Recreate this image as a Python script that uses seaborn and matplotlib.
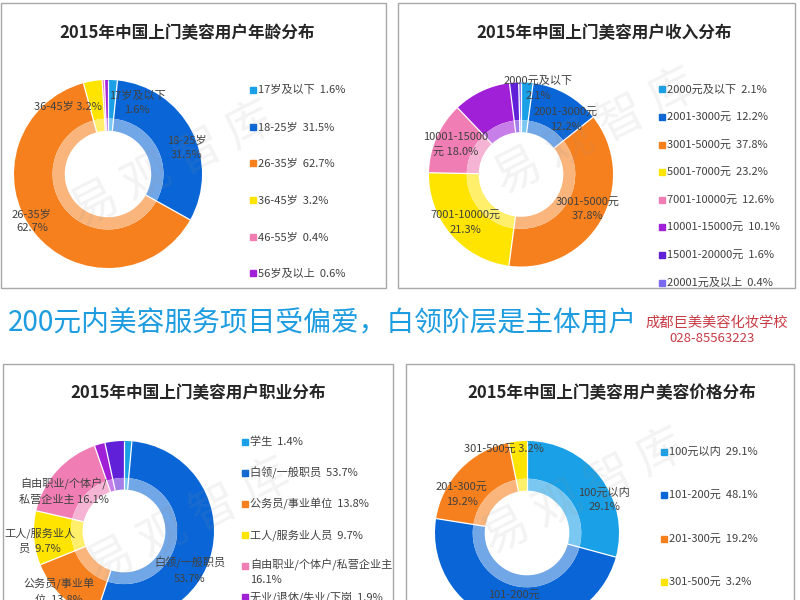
import numpy as np
import matplotlib
matplotlib.use("Agg")
import matplotlib.pyplot as plt
import matplotlib.colors as mcolors
from matplotlib.patches import Rectangle
import seaborn as sns

sns.set_theme(style="white")
plt.rcParams['font.family'] = ['Noto Sans CJK SC', 'DejaVu Sans']

# ---------------- data ----------------
age_title = "2015年中国上门美容用户年龄分布"
age_labels = ["17岁及以下", "18-25岁", "26-35岁", "36-45岁", "46-55岁", "56岁及以上"]
age_values = [1.6, 31.5, 62.7, 3.2, 0.4, 0.6]
age_slice_text = ["17岁及以下\n1.6%", "18-25岁\n31.5%", "26-35岁\n62.7%", "36-45岁 3.2%"]

income_title = "2015年中国上门美容用户收入分布"
income_labels = ["2000元及以下", "2001-3000元", "3001-5000元", "5001-7000元",
                 "7001-10000元", "10001-15000元", "15001-20000元", "20001元及以上"]
income_values = [2.1, 12.2, 37.8, 23.2, 12.6, 10.1, 1.6, 0.4]
income_slice_text = ["2000元及以下\n2.1%", "2001-3000元\n12.2%", "3001-5000元\n37.8%",
                     "7001-10000元\n21.3%", "10001-15000\n元 18.0%"]

job_title = "2015年中国上门美容用户职业分布"
job_labels = ["学生", "白领/一般职员", "公务员/事业单位", "工人/服务业人员",
              "自由职业/个体户/私营企业主", "无业/退休/失业/下岗", "其他"]
job_values = [1.4, 53.7, 13.8, 9.7, 16.1, 1.9, 3.4]
job_slice_text = ["白领/一般职员\n53.7%", "公务员/事业单\n位  13.8%",
                  "工人/服务业人\n员  9.7%", "自由职业/个体户/\n私营企业主 16.1%"]

price_title = "2015年中国上门美容用户美容价格分布"
price_labels = ["100元以内", "101-200元", "201-300元", "301-500元"]
price_values = [29.1, 48.1, 19.2, 3.2]
price_slice_text = ["100元以内\n29.1%", "101-200元\n48.1%", "201-300元\n19.2%", "301-500元 3.2%"]

banner = "200元内美容服务项目受偏爱，白领阶层是主体用户"
school = "成都巨美美容化妆学校"
phone = "028-85563223"
watermark = "易 观 智 库"

# ---------------- style ----------------
palette = sns.color_palette(["#1aa0e6", "#0a66d6", "#f7801e", "#ffe400",
                             "#f07eb4", "#a020d8", "#6020d8", "#7a6af0"])
TEXT = "#404040"
W, H = 800, 600
FS = 8.0


def fx(x):
    return x / W


def fy(y):
    return 1 - y / H


def lighten(c, a):
    r, g, b = mcolors.to_rgb(c)
    return (r + (1 - r) * a, g + (1 - g) * a, b + (1 - b) * a)


fig = plt.figure(figsize=(8, 6), dpi=100)
fig.patch.set_facecolor("white")


def box(x0, y0, x1, y1):
    fig.add_artist(Rectangle((fx(x0), fy(y1)), (x1 - x0) / W, (y1 - y0) / H,
                             transform=fig.transFigure, fill=False,
                             edgecolor="#a8a8a8", linewidth=1.0))


def donut(cx, cy, R, values, texts, text_pos):
    lim = 1.15
    ax = fig.add_axes([fx(cx - lim * R), fy(cy + lim * R), 2 * lim * R / W, 2 * lim * R / H])
    cols = palette[:len(values)]
    ax.pie(values, colors=cols, radius=1.0, startangle=90, counterclock=False,
           wedgeprops=dict(width=0.41, linewidth=0))
    ax.pie(values, colors=[lighten(c, 0.42) for c in cols], radius=0.59,
           startangle=90, counterclock=False,
           wedgeprops=dict(width=0.13, linewidth=0))
    # thin white separators between slices
    total = float(sum(values))
    cum = np.cumsum([0.0] + list(values))
    for c in cum[:-1]:
        ang = np.deg2rad(90 - 360.0 * c / total)
        ax.plot([0.46 * np.cos(ang), 1.0 * np.cos(ang)],
                [0.46 * np.sin(ang), 1.0 * np.sin(ang)],
                color="white", linewidth=0.9, solid_capstyle="butt", zorder=3)
    ax.set_xlim(-lim, lim)
    ax.set_ylim(-lim, lim)
    ax.set_aspect("equal")
    ax.axis("off")
    for t, (px, py) in zip(texts, text_pos):
        ax.text(px, py, t, ha="center", va="center", fontsize=FS,
                color=TEXT, linespacing=1.6, zorder=5)
    return ax


def legend(xs, y0, dy, labels, values, n=None):
    n = len(labels) if n is None else n
    for i in range(n):
        y = y0 + i * dy
        fig.add_artist(Rectangle((fx(xs), fy(y + 3)), 6 / W, 6 / H,
                                 transform=fig.transFigure, color=palette[i]))
        lab = labels[i]
        if len(lab) > 12:
            fig.text(fx(xs + 8), fy(y - 7), f"{lab}\n{values[i]}%", ha="left", va="top",
                     fontsize=FS, color=TEXT, linespacing=1.55)
        else:
            fig.text(fx(xs + 8), fy(y), f"{lab}  {values[i]}%", ha="left", va="center",
                     fontsize=FS, color=TEXT)


def title(x, y, t):
    fig.text(fx(x), fy(y), t, ha="center", va="center", fontsize=12.0,
             fontweight="bold", color="#262626")


def mark(x, y):
    fig.text(fx(x), fy(y), watermark, ha="center", va="center", fontsize=34,
             rotation=27, color="#909090", alpha=0.11, zorder=20)


# panel frames
box(1, 3, 386, 288)
box(398, 3, 795, 288)
box(3, 364, 393, 610)
box(406, 364, 794, 610)

# top-left: age
title(187, 33, age_title)
donut(108, 174, 94, age_values, age_slice_text,
      [(0.31, 0.755), (0.84, 0.28), (-0.81, -0.5), (-0.43, 0.72)])
legend(250, 90, 36.67, age_labels, age_values)
mark(173, 166)

# top-right: income
title(604, 33, income_title)
donut(521, 174.5, 92, income_values, income_slice_text,
      [(0.185, 0.94), (0.49, 0.60), (0.72, -0.375), (-0.60, -0.52), (-0.71, 0.33)])
legend(659, 89.3, 27.6, income_labels, income_values)
mark(596, 133)

# banner
fig.text(fx(8), fy(323), banner, ha="left", va="center", fontsize=20, color="#1d9ce0")
fig.text(fx(717), fy(323), school, ha="center", va="center", fontsize=10.3, color="#c83c46")
fig.text(fx(712), fy(339), phone, ha="center", va="center", fontsize=9.5, color="#c83c46")

# bottom-left: occupation
title(198, 393, job_title)
donut(124, 531, 90, job_values, job_slice_text,
      [(0.73, -0.44), (-0.72, -0.67), (-0.93, -0.11), (-0.67, 0.44)])
legend(242, 442, 31, job_labels, job_values, n=6)
mark(189, 523)

# bottom-right: price
title(612, 393, price_title)
donut(527, 533, 92, price_values, price_slice_text,
      [(0.84, 0.36), (-0.14, -0.75), (-0.71, 0.42), (-0.25, 0.92)])
legend(661, 452, 43.3, price_labels, price_values)
mark(584, 493)

fig.savefig("out.png", dpi=100, facecolor="white")
